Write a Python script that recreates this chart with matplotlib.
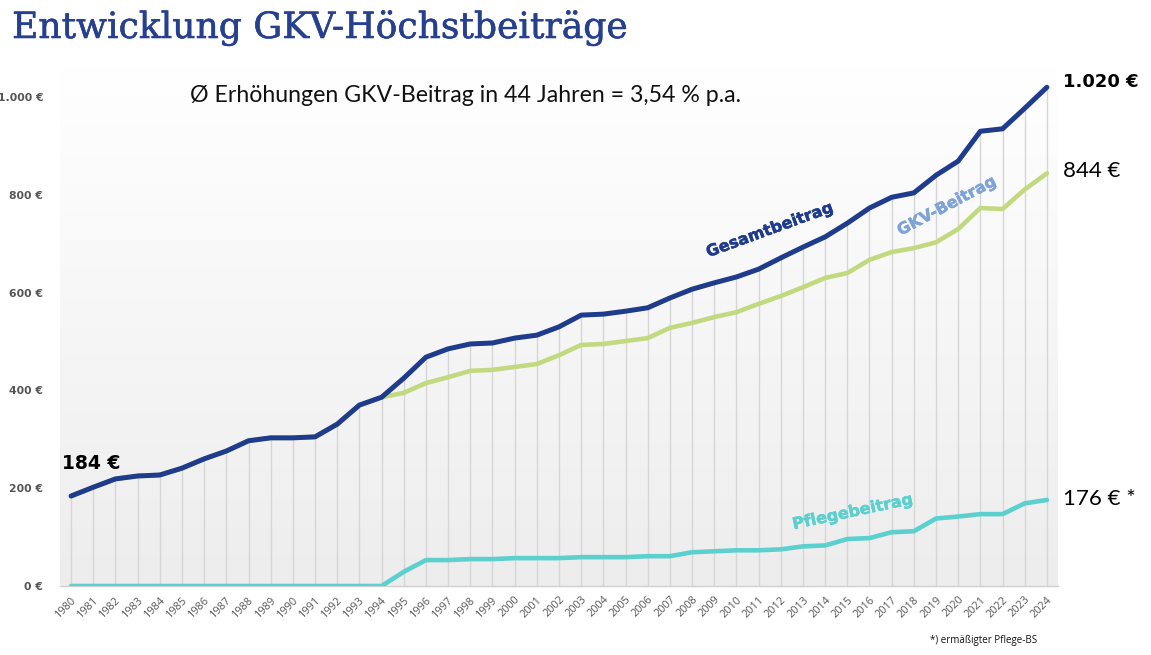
import numpy as np
import matplotlib
matplotlib.use("Agg")
import matplotlib.pyplot as plt
import matplotlib.patheffects as pe
from matplotlib.colors import LinearSegmentedColormap

years = list(range(1980, 2025))
gesamt = [184, 202, 219, 225, 227, 241, 260, 276, 297, 303, 303, 305, 331, 370, 386,
          425, 468, 485, 495, 497, 507, 513, 530, 554, 556, 562, 569, 589, 607, 620,
          632, 648, 671, 693, 714, 742, 773, 795, 804, 840, 869, 930, 935, 977, 1020]
gkv = [184, 202, 219, 225, 227, 241, 260, 276, 297, 303, 303, 305, 331, 370, 386,
       395, 415, 427, 440, 442, 448, 454, 472, 493, 495, 501, 507, 528, 538, 550,
       560, 577, 593, 611, 630, 640, 667, 683, 691, 703, 730, 773, 771, 811, 844]
pflege = [0, 0, 0, 0, 0, 0, 0, 0, 0, 0, 0, 0, 0, 0, 0,
          29, 53, 53, 55, 55, 57, 57, 57, 59, 59, 59, 61, 61, 69, 71,
          73, 73, 75, 81, 83, 96, 98, 110, 112, 138, 142, 147, 147, 169, 176]
yticks = [0, 200, 400, 600, 800, 1000]
ytick_labels = ["0 €", "200 €", "400 €", "600 €", "800 €", "1.000 €"]

C_GES = "#1f3b8c"
C_GKV = "#c3d980"
C_PFL = "#5ccfcf"
C_GKV_TXT = "#7ea3d8"

W, H = 1151, 655
fig = plt.figure(figsize=(W / 100, H / 100), dpi=100)
ax = fig.add_axes([60 / W, (H - 586) / H, 998 / W, 518.3 / H])
ax.set_xlim(1979.5, 2024.5)
ax.set_ylim(0, 1060)

# gradient background
cmap = LinearSegmentedColormap.from_list("g", ["#ededed", "#ffffff"])
grad = np.linspace(0, 1, 256).reshape(-1, 1)
ax.imshow(grad, extent=[1979.5, 2024.5, 0, 1060], origin="lower", aspect="auto",
          cmap=cmap, zorder=0)

# drop lines
ax.vlines(years, 0, gesamt, colors="#d6d6d6", linewidth=1, zorder=1)

ax.plot(years, gkv, color=C_GKV, lw=3.3, zorder=3, solid_capstyle="round")
ax.plot(years, pflege, color=C_PFL, lw=3.3, zorder=3, solid_capstyle="round")
ax.plot(years, gesamt, color=C_GES, lw=3.6, zorder=4, solid_capstyle="round")

for s in ["top", "right", "left"]:
    ax.spines[s].set_visible(False)
ax.spines["bottom"].set_color("#d0d0d0")
ax.spines["bottom"].set_linewidth(1)

ax.set_yticks(yticks)
ax.set_yticklabels(ytick_labels, fontsize=7.8, fontweight="bold", color="#555555",
                   family="DejaVu Sans")
ax.tick_params(axis="y", length=0, pad=12)
ax.set_xticks(years)
ax.set_xticklabels([str(y) for y in years], rotation=45, ha="right",
                   rotation_mode="anchor", fontsize=7.8, color="#555555",
                   family="Open Sans")
ax.tick_params(axis="x", length=0, pad=6)

# title
fig.text(12 / W, 1 - 38 / H, "Entwicklung GKV-Höchstbeiträge", family=["DejaVu Serif"],
         fontsize=26, color="#26408f", ha="left", va="baseline",
         path_effects=[pe.withStroke(linewidth=0.4, foreground="#26408f")])

fig.text(190 / W, 1 - 102 / H, "Ø Erhöhungen GKV-Beitrag in 44 Jahren = 3,54 % p.a.",
         family="Lato", fontsize=16.7, color="#111111", ha="left", va="baseline")

fig.text(62 / W, 1 - 469 / H, "184 €", family="DejaVu Sans", fontweight="bold",
         fontsize=13.5, color="#000000", ha="left", va="baseline")
fig.text(1063 / W, 1 - 87 / H, "1.020 €", family="DejaVu Sans", fontweight="bold",
         fontsize=13, color="#000000", ha="left", va="baseline")
fig.text(1063 / W, 1 - 177 / H, "844 €", family="Lato", fontsize=16,
         color="#000000", ha="left", va="baseline")
fig.text(1063 / W, 1 - 505 / H, "176 € *", family="Lato", fontsize=16,
         color="#000000", ha="left", va="baseline")

fig.text(770 / W, 1 - 230 / H, "Gesamtbeitrag", family="DejaVu Sans", fontweight="bold",
         fontsize=11.5, color=C_GES, rotation=20, ha="center", va="center",
         path_effects=[pe.withStroke(linewidth=0.35, foreground=C_GES)])
fig.text(947 / W, 1 - 206 / H, "GKV-Beitrag", family="DejaVu Sans", fontweight="bold",
         fontsize=11.5, color=C_GKV_TXT, rotation=28, ha="center", va="center",
         path_effects=[pe.withStroke(linewidth=0.35, foreground=C_GKV_TXT)])
fig.text(853 / W, 1 - 512 / H, "Pflegebeitrag", family="DejaVu Sans", fontweight="bold",
         fontsize=11.5, color=C_PFL, rotation=12, ha="center", va="center",
         path_effects=[pe.withStroke(linewidth=0.35, foreground=C_PFL)])

fig.text(1037 / W, 1 - 643 / H, "*) ermäßigter Pflege-BS", family="Open Sans",
         fontsize=7, color="#111111", ha="right", va="baseline")

fig.savefig("out.png", dpi=100)
